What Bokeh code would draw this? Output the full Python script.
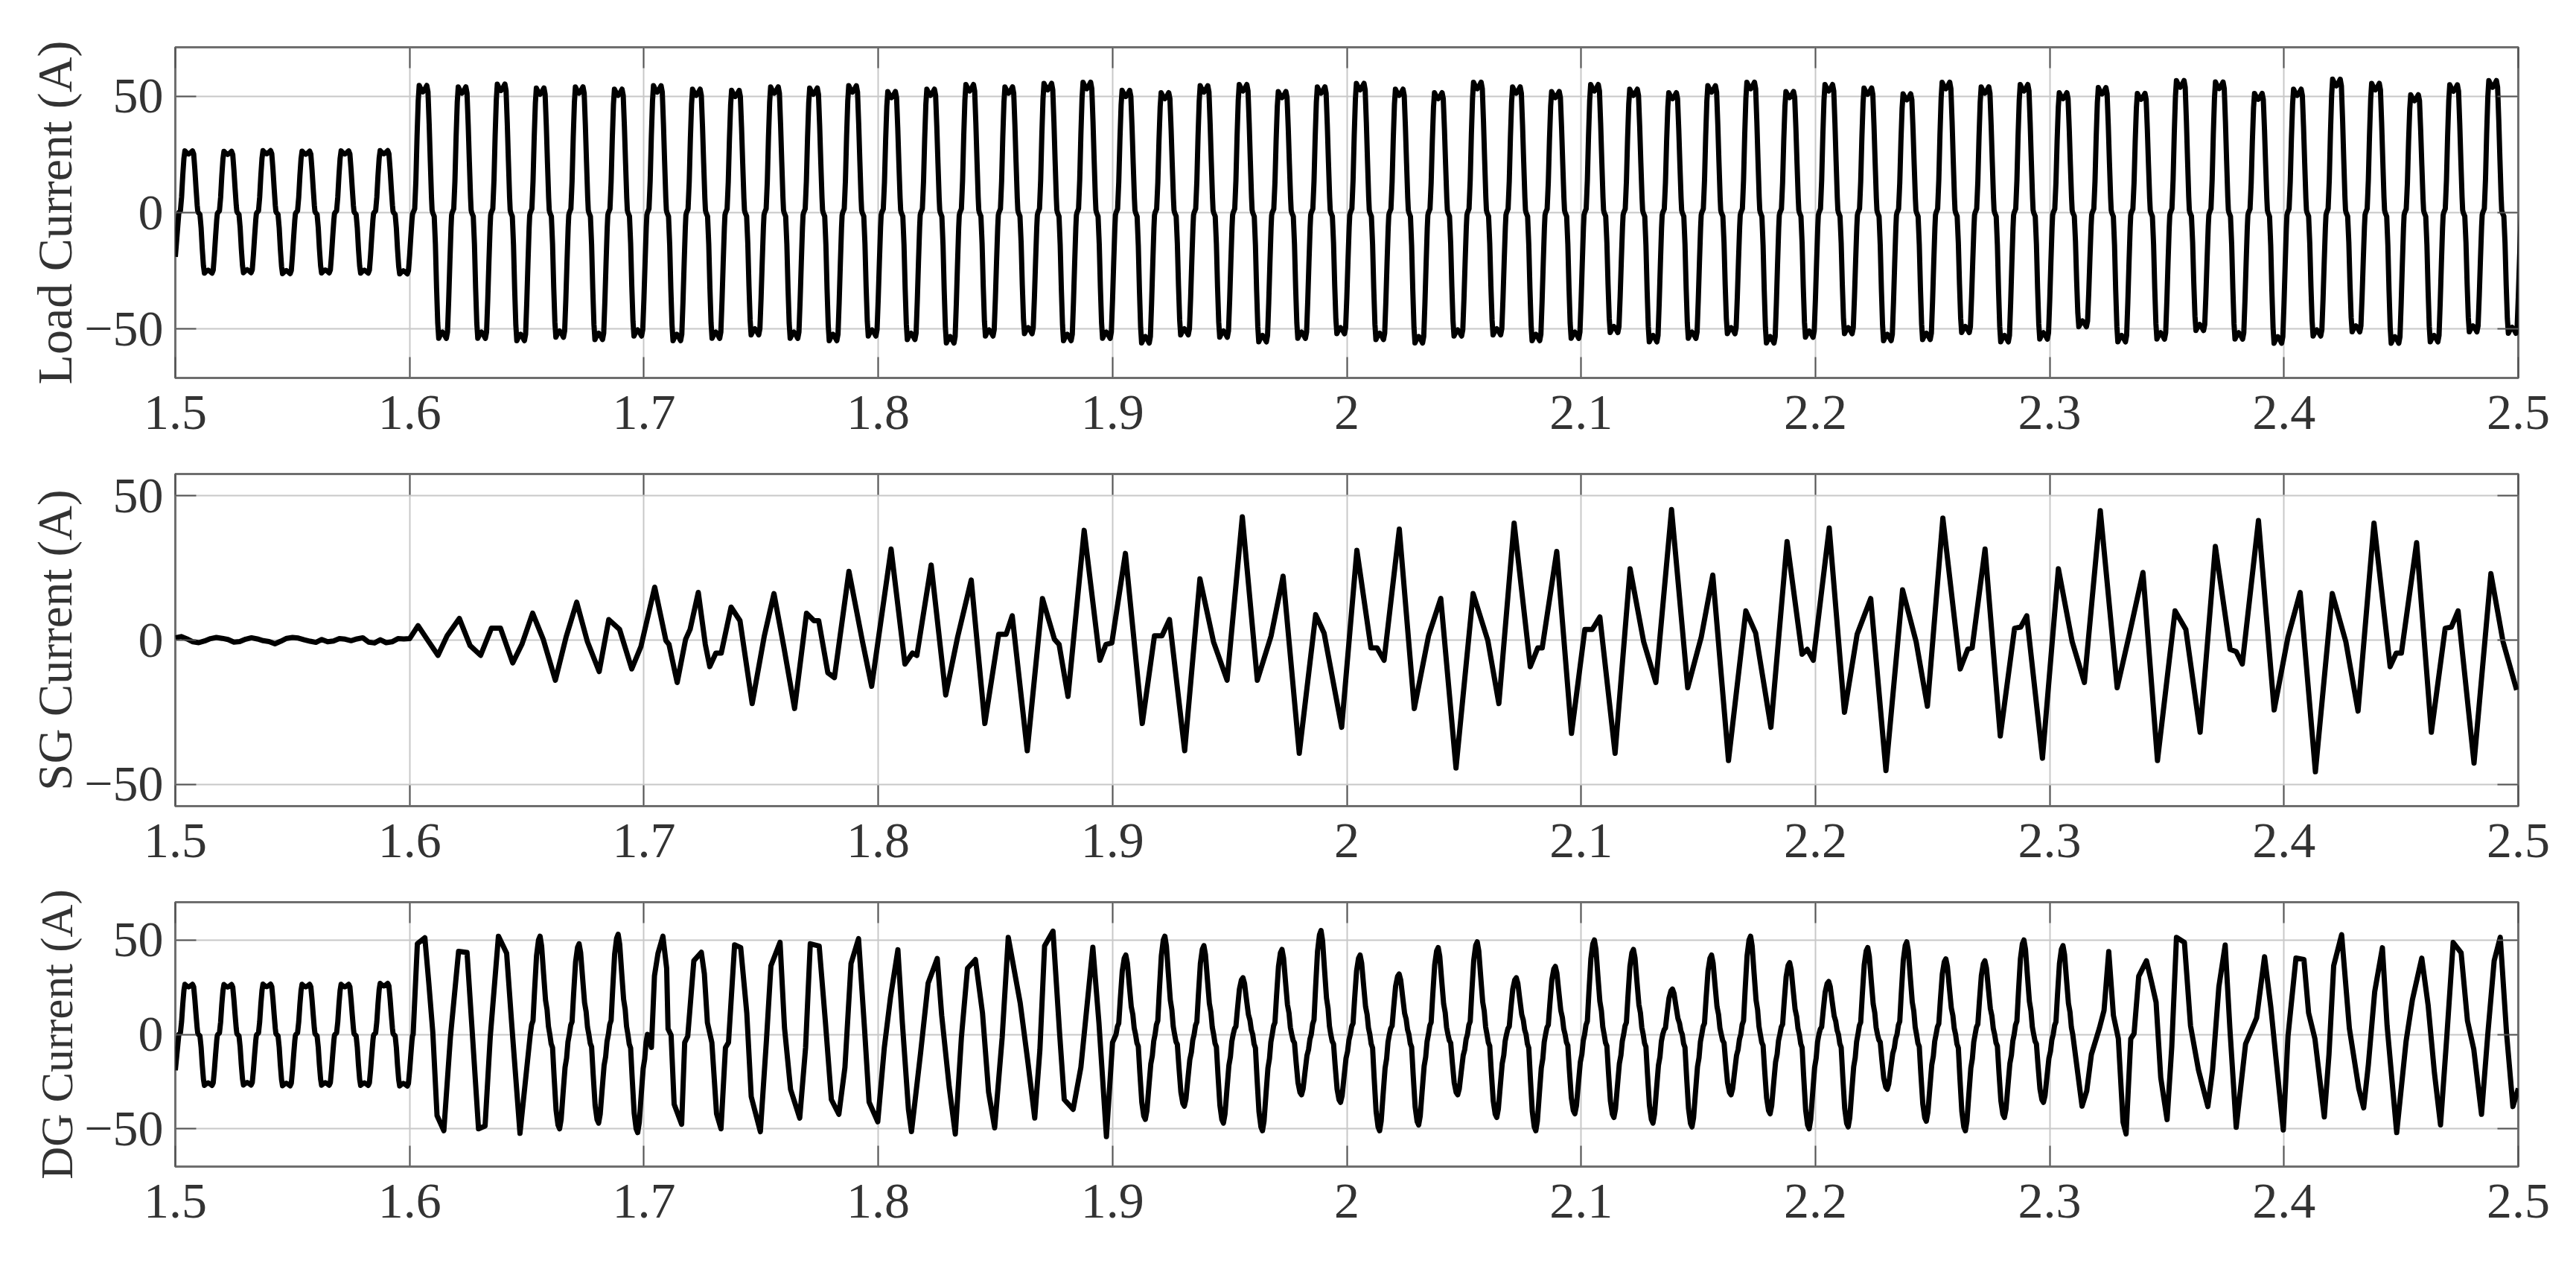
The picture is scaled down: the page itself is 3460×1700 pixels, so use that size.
from bokeh.plotting import figure
from bokeh.layouts import column
from bokeh.models import Range1d, FixedTicker, LinearAxis, CustomJSTickFormatter
from bokeh.embed import file_html
from bokeh.resources import INLINE

# ---------------- data ----------------
T_START, T_END = 1.5, 2.5
T0 = 1.5015          # first upward zero crossing of the load current
FREQ = 60.0
X_TICKS = [1.5, 1.6, 1.7, 1.8, 1.9, 2.0, 2.1, 2.2, 2.3, 2.4, 2.5]
Y_TICKS = [-50, 0, 50]

LOAD_SHAPE_PHASE = [0.0, 0.08, 0.14, 0.2, 0.26, 0.31, 0.4, 0.5, 0.6, 0.7, 0.76, 0.82, 0.88, 0.94, 0.97, 1.0]
LOAD_SHAPE_VALUE = [0.0, 0.03, 0.25, 0.6, 0.88, 1.0, 0.97, 0.95, 0.97, 1.0, 0.95, 0.7, 0.4, 0.12, 0.02, 0.0]

LOAD_POS = [26.5, 26.3, 26.6, 26.4, 26.5, 26.6,
            54.6, 54.0, 55.2, 53.5, 54.0, 53.0, 54.5, 53.0, 52.5, 54.0,
            53.5, 54.5, 52.0, 53.0, 55.0, 54.0, 55.5, 56.0, 52.5, 51.5,
            54.5, 55.0, 52.0, 54.0, 55.5, 53.0, 51.5, 56.0, 54.0, 52.0,
            55.0, 53.0, 51.5, 54.5, 56.0, 52.0, 55.0, 53.5, 51.0, 56.0,
            54.0, 55.0, 51.5, 53.7, 51.2, 56.7, 56.1, 51.2, 53.0, 57.3,
            55.5, 50.6, 54.9, 56.7]
LOAD_NEG = [-26.0, -25.8, -26.2, -25.9, -26.0, -26.3,
            -54.0, -54.0, -55.0, -53.5, -54.5, -53.0, -55.0, -54.0, -52.5, -54.0,
            -55.0, -53.0, -54.5, -56.0, -53.0, -52.0, -55.0, -54.0, -56.0, -52.5,
            -53.5, -55.5, -54.0, -52.0, -54.5, -56.0, -53.0, -52.5, -55.0, -54.0,
            -51.5, -55.5, -54.0, -52.0, -56.0, -53.5, -52.0, -55.0, -54.5, -51.5,
            -55.5, -54.3, -49.0, -55.5, -54.3, -50.6, -54.3, -56.1, -53.0, -51.2,
            -56.1, -55.5, -51.2, -51.8]
LOAD_START_VALUE = -19.0

# SG current: noise before the step, then read turning points
SG_NOISE_DT = 0.0025
SG_NOISE = [0.8, 1.2, 0.4, -0.6, -0.9, -0.3, 0.5, 0.9, 0.6, 0.2, -0.7, -0.5, 0.3, 0.8, 0.4, -0.2,
            -0.5, -1.3, -0.4, 0.6, 0.9, 0.7, 0.1, -0.4, -0.8, 0.2, -0.6, -0.3, 0.5, 0.3, -0.2, 0.4,
            0.8, -0.7, -1.0, 0.1, -0.9, -0.6, 0.5, 0.4]
SG_T = [1.6000, 1.6036, 1.6082, 1.6121, 1.6160, 1.6212, 1.6258, 1.6303, 1.6349, 1.6388, 1.6440, 1.6479,
        1.6525, 1.6570, 1.6622, 1.6668, 1.6713, 1.6759, 1.6809, 1.6850, 1.6896, 1.6948, 1.6987,
        1.7046, 1.7094, 1.7107, 1.7142, 1.7178, 1.7197, 1.7232, 1.7262, 1.7281, 1.7307, 1.7330, 1.7372,
        1.7410, 1.7462, 1.7514, 1.7555, 1.7597, 1.7643, 1.7694, 1.7726, 1.7746, 1.7785, 1.7813, 1.7875,
        1.7933, 1.7972, 1.8055, 1.8114, 1.8146, 1.8165, 1.8226, 1.8288, 1.8339, 1.8397, 1.8455, 1.8514,
        1.8546, 1.8572, 1.8636, 1.8701, 1.8752, 1.8772, 1.8810, 1.8879, 1.8946, 1.8972, 1.8997, 1.9055,
        1.9127, 1.9179, 1.9211, 1.9243, 1.9308, 1.9373, 1.9431, 1.9489, 1.9554, 1.9618, 1.9677, 1.9728,
        1.9797, 1.9867, 1.9903, 1.9978, 2.0043, 2.0103, 2.0129, 2.0159, 2.0224, 2.0288, 2.0349, 2.0401,
        2.0466, 2.0539, 2.0602, 2.0649, 2.0714, 2.0783, 2.0815, 2.0834, 2.0896, 2.0959, 2.1016, 2.1048,
        2.1080, 2.1145, 2.1209, 2.1267, 2.1319, 2.1386, 2.1455, 2.1513, 2.1562, 2.1629, 2.1703, 2.1745,
        2.1810, 2.1879, 2.1943, 2.1965, 2.1991, 2.2059, 2.2124, 2.2178, 2.2236, 2.2301, 2.2372, 2.2430,
        2.2478, 2.2544, 2.2618, 2.2650, 2.2669, 2.2724, 2.2789, 2.2850, 2.2876, 2.2902, 2.2969, 2.3037,
        2.3096, 2.3148, 2.3216, 2.3288, 2.3340, 2.3398, 2.3460, 2.3535, 2.3581, 2.3642, 2.3707, 2.3770,
        2.3796, 2.3822, 2.3891, 2.3958, 2.4017, 2.4069, 2.4134, 2.4206, 2.4264, 2.4316, 2.4384, 2.4453,
        2.4479, 2.4501, 2.4566, 2.4629, 2.4688, 2.4714, 2.4743, 2.4811, 2.4883, 2.4935, 2.4993]
SG_V = [0.5, 5.0, -0.6, -5.3, 1.5, 7.5, -1.9, -5.3, 4.1, 4.1, -7.9, -1.5,
        9.3, 0.3, -13.9, 1.1, 13.1, -0.6, -10.9, 7.1, 3.7, -10.0, -2.3,
        18.3, -0.2, -1.5, -14.7, 0.3, 3.7, 16.5, -1.5, -9.2, -4.5, -4.5, 11.4,
        6.7, -22.0, 1.5, 16.1, -2.3, -23.7, 9.3, 6.7, 6.7, -11.3, -13.0, 23.8,
        -0.6, -16.0, 31.5, -8.3, -4.5, -5.3, 26.0, -19.0, 1.1, 20.8, -28.9, 2.0,
        2.0, 8.4, -38.3, 14.4, 0.3, -1.5, -19.5, 38.0, -7.0, -1.5, -1.0, 30.0,
        -28.9, 1.5, 1.5, 7.1, -38.3, 21.2, -0.6, -13.9, 42.7, -13.9, 1.5, 22.1,
        -39.2, 8.8, 2.4, -30.2, 31.1, -2.7, -2.7, -7.0, 38.4, -23.7, 1.5, 14.4,
        -44.3, 16.1, -0.2, -22.0, 40.5, -9.2, -2.7, -2.7, 30.7, -32.3, 3.7, 3.7,
        8.0, -39.2, 24.7, -0.6, -14.7, 45.2, -16.5, 1.1, 22.5, -41.7, 10.1, 2.4,
        -30.2, 34.1, -4.9, -3.2, -7.0, 38.8, -25.0, 2.0, 14.4, -45.2, 17.4, -0.6,
        -22.9, 42.2, -10.0, -3.2, -2.7, 31.5, -33.2, 4.1, 4.5, 8.4, -40.9, 24.7,
        -0.6, -14.7, 44.8, -16.5, 2.0, 23.4, -41.7, 10.1, 3.7, -31.9, 32.4, -3.2,
        -4.0, -8.3, 41.4, -24.2, 1.1, 16.5, -45.6, 16.1, -0.6, -24.6, 40.5, -9.2,
        -4.5, -4.5, 33.7, -31.9, 4.1, 4.5, 10.1, -42.6, 23.0, -0.6, -17.3]

# DG current
DG_PRE_POS = [26.5, 26.4, 26.6, 26.5, 26.5, 27.0]          # cycles 0-5 (same lobe shape as load)
DG_PRE_NEG = [-27.0, -26.8, -27.2, -26.9, -27.0, -27.3]
# normalized half-cycle lobe of the distorted DG current (peaked, with shoulders)
DG_SHAPE_PHASE = [0.0, 0.07, 0.14, 0.22, 0.32, 0.42, 0.5, 0.58, 0.68, 0.78, 0.86, 0.93, 1.0]
DG_SHAPE_VALUE = [0.0, 0.1, 0.14, 0.45, 0.8, 0.96, 1.0, 0.9, 0.62, 0.35, 0.25, 0.08, 0.0]
# read turning points, part A (1.60-1.65)
DG_A_T = [1.6033, 1.6065, 1.6082, 1.6099, 1.6117, 1.6146, 1.6174, 1.6209, 1.6245, 1.6266, 1.6294,
          1.6322, 1.6344, 1.6379, 1.6414, 1.6436, 1.6471]
DG_A_V = [48.0, 51.2, 27.0, 1.0, -43.0, -51.0, -1.6, 44.0, 43.4, 3.7, -50.0,
          -48.5, -1.6, 52.0, 43.0, 5.0, -52.4]
# estimated lobe peaks, cycles 9-11
DG_E1_FIRST = 9
DG_E1_POS = [52.0, 48.0, 53.0]
DG_E1_NEG = [-50.0, -47.0, -52.0]
# read turning points, part B (1.70-1.90)
DG_B_T = [1.7032, 1.7045, 1.7060, 1.7081, 1.7097, 1.7103, 1.7116, 1.7129, 1.7161, 1.7174, 1.7187, 1.7213,
          1.7245, 1.7258, 1.7271, 1.7290, 1.7310, 1.7329, 1.7348, 1.7361, 1.7387, 1.7413, 1.7439, 1.7458,
          1.7497, 1.7523, 1.7542, 1.7581, 1.7600, 1.7626, 1.7665, 1.7690, 1.7710, 1.7748, 1.7774, 1.7800,
          1.7832, 1.7858, 1.7884, 1.7916, 1.7942, 1.7961, 1.7998, 1.8026, 1.8052, 1.8084, 1.8103, 1.8129,
          1.8142, 1.8181, 1.8213, 1.8252, 1.8271, 1.8303, 1.8329, 1.8355, 1.8381, 1.8415, 1.8445, 1.8471,
          1.8497, 1.8529, 1.8555, 1.8606, 1.8639, 1.8668, 1.8690, 1.8710, 1.8746, 1.8774, 1.8794, 1.8832,
          1.8865, 1.8916, 1.8942, 1.8974, 1.9000]
DG_B_V = [-6.9, 31.0, 42.9, 52.0, 35.0, 2.9, -0.4, -37.0, -47.6, -4.3, -1.0, 39.0,
          43.5, 32.0, 6.2, -4.3, -42.0, -50.0, -7.0, -4.3, 47.4, 46.0, 11.4, -33.0,
          -51.5, -3.0, 36.3, 48.8, 3.5, -29.2, -44.3, -7.0, 48.0, 46.8, 7.5, -34.5,
          -42.3, -17.4, 37.6, 50.7, 2.2, -35.8, -46.3, -7.0, 19.3, 44.8, 6.2, -39.7,
          -51.5, -9.6, 27.1, 40.2, 10.0, -27.9, -52.8, -1.7, 35.0, 39.6, 11.4, -30.5,
          -49.5, -1.7, 51.4, 16.6, -14.8, -44.3, -8.3, 46.8, 54.7, 0.9, -34.5, -39.7,
          -17.4, 46.1, 6.2, -54.1, -4.3]
# estimated lobe peaks, cycles 24-48 (last cycle: positive lobe only)
DG_E2_FIRST = 24
DG_E2_POS = [42, 52, 47, 30, 45, 55, 42, 32, 46, 49, 30, 36, 50, 45, 24, 42, 52, 38, 28, 46,
             49, 40, 39, 50, 47]
DG_E2_NEG = [-45, -38, -47, -51, -32, -36, -51, -48, -32, -44, -51, -42, -44, -47, -49, -32,
             -42, -50, -49, -29, -46, -51, -44, -36]
# read turning points, part C (2.31-2.50)
DG_C_T = [2.3138, 2.3158, 2.3178, 2.3212, 2.3232, 2.3252, 2.3272, 2.3293, 2.3313, 2.3326, 2.3346, 2.3360,
          2.3380, 2.3413, 2.3434, 2.3454, 2.3474, 2.3501, 2.3521, 2.3541, 2.3575, 2.3601, 2.3635, 2.3675,
          2.3695, 2.3722, 2.3749, 2.3769, 2.3796, 2.3836, 2.3883, 2.3917, 2.3944, 2.3964, 2.3997, 2.4017,
          2.4051, 2.4085, 2.4105, 2.4132, 2.4172, 2.4192, 2.4212, 2.4246, 2.4279, 2.4319, 2.4340, 2.4360,
          2.4387, 2.4420, 2.4440, 2.4481, 2.4521, 2.4548, 2.4588, 2.4615, 2.4642, 2.4668, 2.4695, 2.4722,
          2.4756, 2.4783, 2.4810, 2.4843, 2.4870, 2.4897, 2.4923, 2.4950, 2.4977, 2.5000]
DG_C_V = [-38.0, -30.0, -10.6, 3.2, 12.8, 43.9, 10.0, -2.3, -46.5, -52.7, -2.3, 0.4,
          30.8, 39.0, 28.0, 17.0, -23.0, -45.1, -6.5, 51.4, 48.7, 4.6, -18.9, -38.2,
          -18.9, 25.2, 47.3, 3.2, -49.2, -5.1, 8.7, 41.1, 14.2, -10.6, -50.6, -1.0,
          40.4, 39.7, 11.4, -2.3, -43.7, -10.6, 36.3, 52.8, 3.2, -28.6, -38.9, -16.1,
          22.5, 45.9, 4.6, -52.0, -3.7, 18.3, 40.4, 15.6, -20.3, -47.9, -1.0, 48.7,
          43.2, 7.3, -7.9, -42.3, 0.4, 39.0, 51.4, 0.4, -38.2, -28.6]


# ---------------- build traces ----------------
def lobes(first_cycle, pos, neg, phases, shape):
    """Place lobes of a read shape, scaled by the read peak of every half cycle."""
    ts, vs = [], []
    for i, amp_p in enumerate(pos):
        halves = [(0, amp_p)] + ([(1, neg[i])] if i < len(neg) else [])
        for h, amp in halves:
            t_half = T0 + (first_cycle + i) / FREQ + h / (2 * FREQ)
            for ph, sv in zip(phases, shape):
                ts.append(t_half + ph / (2 * FREQ))
                vs.append(amp * sv)
    return ts, vs


lt, lv = lobes(0, LOAD_POS, LOAD_NEG, LOAD_SHAPE_PHASE, LOAD_SHAPE_VALUE)
load_t, load_v = [T_START] + lt, [LOAD_START_VALUE] + lv

sg_t = [T_START + i * SG_NOISE_DT for i in range(len(SG_NOISE))] + SG_T
sg_v = SG_NOISE + SG_V

pre_t, pre_v = lobes(0, DG_PRE_POS, DG_PRE_NEG, LOAD_SHAPE_PHASE, LOAD_SHAPE_VALUE)
e1_t, e1_v = lobes(DG_E1_FIRST, DG_E1_POS, DG_E1_NEG, DG_SHAPE_PHASE, DG_SHAPE_VALUE)
e2_t, e2_v = lobes(DG_E2_FIRST, DG_E2_POS, DG_E2_NEG, DG_SHAPE_PHASE, DG_SHAPE_VALUE)
dg_t = [T_START] + pre_t + DG_A_T + e1_t + DG_B_T + e2_t + DG_C_T
dg_v = [LOAD_START_VALUE] + pre_v + DG_A_V + e1_v + DG_B_V + e2_v + DG_C_V

# ---------------- styling ----------------
FONT = "Liberation Serif"
TXT = "#333333"
B_LEFT, FRAME_W, B_RIGHT = 235, 3147, 70
FIG_W = B_LEFT + FRAME_W + B_RIGHT

blank = CustomJSTickFormatter(code="return '';")
num_fmt = CustomJSTickFormatter(code="return tick.toFixed(1).replace(/\\.0$/, '');")


def style_axis(ax, standoff=0, size="68px"):
    ax.axis_line_color = None
    ax.major_tick_in = 28
    ax.major_tick_out = 0
    ax.minor_tick_line_color = None
    ax.major_tick_line_color = "#555555"
    ax.major_tick_line_width = 2
    ax.major_label_text_font = FONT
    ax.major_label_text_color = TXT
    ax.major_label_text_font_size = size
    ax.major_label_standoff = standoff


def make_panel(t, v, y_half, b_top, frame_h, b_bottom, ylabel, label_size):
    p = figure(width=FIG_W, height=b_top + frame_h + b_bottom,
               x_range=Range1d(T_START, T_END), y_range=Range1d(-y_half, y_half),
               output_backend="svg", toolbar_location=None,
               min_border_left=B_LEFT, min_border_right=B_RIGHT,
               min_border_top=b_top, min_border_bottom=b_bottom)
    p.outline_line_color = "#6e6e6e"
    p.outline_line_width = 3
    p.background_fill_color = "white"
    p.border_fill_color = "white"

    xt = FixedTicker(ticks=X_TICKS)
    yt = FixedTicker(ticks=Y_TICKS)
    p.xaxis.ticker = xt
    p.xaxis.formatter = num_fmt
    p.yaxis.ticker = yt
    for ax in p.xaxis:
        style_axis(ax, standoff=24)
    for ax in p.yaxis:
        style_axis(ax, standoff=16)
    p.yaxis.axis_label = ylabel
    p.yaxis.axis_label_text_font = FONT
    p.yaxis.axis_label_text_font_style = "normal"
    p.yaxis.axis_label_text_font_size = label_size
    p.yaxis.axis_label_text_color = TXT
    p.yaxis.axis_label_standoff = 0

    top = LinearAxis(ticker=xt, formatter=blank)
    right = LinearAxis(ticker=yt, formatter=blank)
    style_axis(top, size="2px")
    style_axis(right, size="2px")
    p.add_layout(top, "above")
    p.add_layout(right, "right")

    p.xgrid.ticker = xt
    p.ygrid.ticker = yt
    for g in (p.xgrid, p.ygrid):
        g.grid_line_color = "#c8c8c8"
        g.grid_line_width = 2

    p.line(t, v, line_color="black", line_width=7, line_join="round")
    return p


p1 = make_panel(load_t, load_v, 71, 63, 444, 108, "Load Current (A)", "66px")
p2 = make_panel(sg_t, sg_v, 57.5, 21, 446, 108, "SG Current (A)", "65px")
p3 = make_panel(dg_t, dg_v, 70, 21, 355, 108, "DG Current (A)", "61px")

layout = column(p1, p2, p3)
open("out.html", "w").write(file_html(layout, INLINE))
